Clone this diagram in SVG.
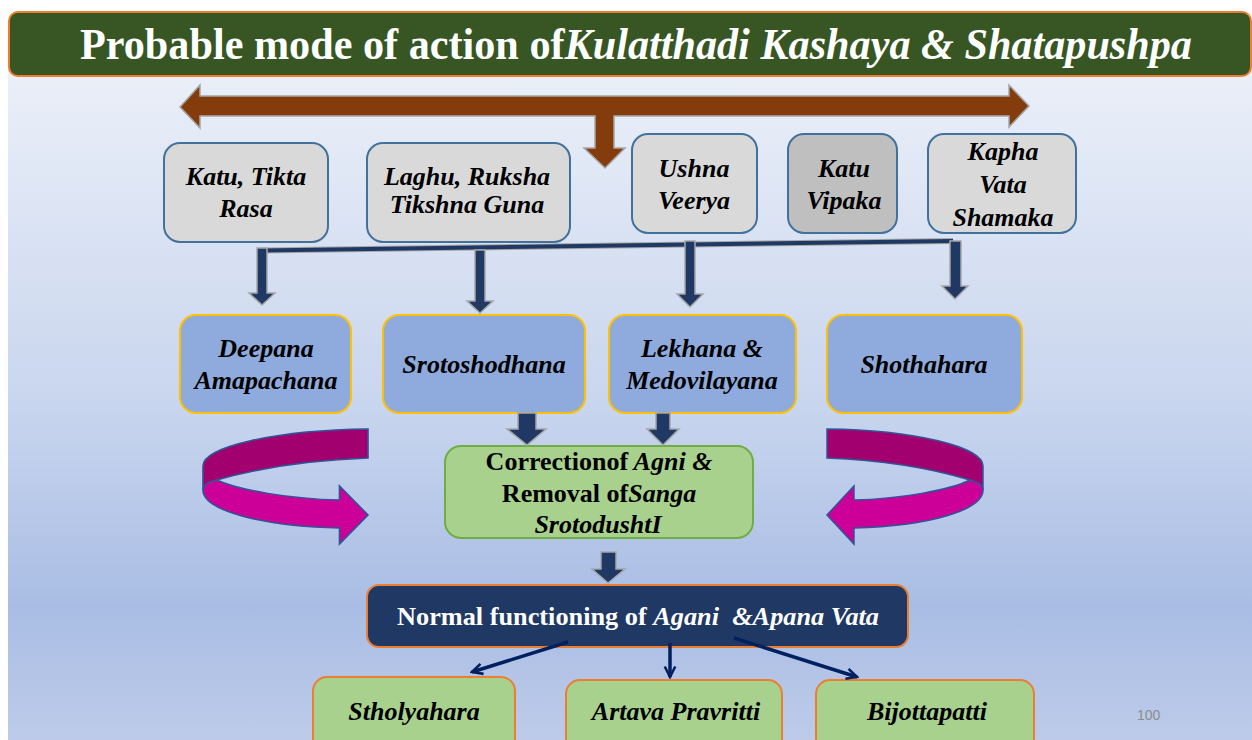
<svg xmlns="http://www.w3.org/2000/svg" width="1252" height="740" viewBox="0 0 1252 740">
<defs>
<linearGradient id="bg" x1="0" y1="76" x2="0" y2="740" gradientUnits="userSpaceOnUse">
<stop offset="0" stop-color="#eaeff8"/>
<stop offset="0.5" stop-color="#c8d5ee"/>
<stop offset="0.8" stop-color="#a9bde4"/>
<stop offset="1" stop-color="#bdcbe9"/>
</linearGradient>
<marker id="vee" viewBox="0 0 12 12" refX="10.5" refY="6" markerWidth="14" markerHeight="14" markerUnits="userSpaceOnUse" orient="auto">
<path d="M1.5,1.5 L10.5,6 L1.5,10.5" fill="none" stroke="#002060" stroke-width="2.2"/>
</marker>
<g id="curl">
<path class="curlA" d="M827,429 C915,430 983,447 983,466 L983,490 C980,484 975,482 970,480 C930,468 880,460 827,458 Z"/>
<path class="curlB" d="M970,480 C950,490 900,499 854,500 L854,486 L827,515 L854,544 L854,528 C930,526 983,510 983,490 C983,485 978,482 970,480 Z"/>
</g>
</defs>
<style>
.t{font-family:"Liberation Serif","Times New Roman",serif;font-weight:bold;font-style:italic;font-size:26px;text-anchor:middle;fill:#000}
.up{font-style:normal}
.gray{fill:#d9d9d9;stroke:#41719c;stroke-width:2}
.dgray{fill:#bfbfbf;stroke:#41719c;stroke-width:2}
.blue{fill:#8faadc;stroke:#ffc000;stroke-width:2}
.green{fill:#a9d18e;stroke:#70ad47;stroke-width:2}
.green2{fill:#a9d18e;stroke:#ed7d31;stroke-width:2}
.navy{fill:#203864;stroke:#ed7d31;stroke-width:2}
.dn{fill:#1f3864;stroke:#a6a6a6;stroke-width:1.5}
.curlA{fill:#a3006f;stroke:#2f5597;stroke-width:1.5}
.curlB{fill:#cc0099;stroke:#2f5597;stroke-width:1.5}
.thin{fill:none;stroke:#002060;stroke-width:3.5;marker-end:url(#vee)}
</style>

<rect x="0" y="0" width="1252" height="740" fill="#ffffff"/>
<rect x="8" y="60" width="1244" height="680" fill="url(#bg)"/>

<g id="title">
<rect x="9" y="12" width="1242" height="64" rx="9" fill="#375623" stroke="#ed7d31" stroke-width="2"/>
<text x="80" y="59" textLength="1112" lengthAdjust="spacingAndGlyphs" font-family="'Liberation Serif','Times New Roman',serif" font-weight="bold" font-size="44" fill="#ffffff">Probable mode of action of<tspan font-style="italic">Kulatthadi Kashaya &amp; Shatapushpa</tspan></text>
</g>

<g id="brown-arrow">
<polygon points="180,107 200,85 200,96 1009,96 1009,85 1029,106 1009,127 1009,116 614,116 614,148 625,148 605,168 584,148 595,148 595,116 200,116 200,128" fill="#843c0c" stroke="#a6a6a6" stroke-width="1.5"/>
</g>

<g id="n-katu-tikta">
<rect class="gray" x="164" y="143" width="164" height="99" rx="16"/>
<text class="t" x="246" y="185">Katu, Tikta</text>
<text class="t" x="246" y="217">Rasa</text>
</g>
<g id="n-laghu">
<rect class="gray" x="367" y="143" width="203" height="99" rx="16"/>
<text class="t" x="467" y="185" font-size="21.5">Laghu, Ruksha</text>
<text class="t" x="467" y="213" font-size="21.5">Tikshna Guna</text>
</g>
<g id="n-ushna">
<rect class="gray" x="632" y="134" width="125" height="99" rx="16"/>
<text class="t" x="694" y="177">Ushna</text>
<text class="t" x="694" y="209">Veerya</text>
</g>
<g id="n-vipaka">
<rect class="dgray" x="788" y="134" width="109" height="99" rx="16"/>
<text class="t" x="844" y="177">Katu</text>
<text class="t" x="844" y="209">Vipaka</text>
</g>
<g id="n-kapha">
<rect class="gray" x="928" y="134" width="148" height="99" rx="16"/>
<text class="t" x="1003" y="160">Kapha</text>
<text class="t" x="1003" y="193">Vata</text>
<text class="t" x="1003" y="226">Shamaka</text>
</g>

<g id="n-deepana">
<rect class="blue" x="180" y="315" width="171" height="98" rx="16"/>
<text class="t" x="266" y="357">Deepana</text>
<text class="t" x="266" y="389">Amapachana</text>
</g>
<g id="n-sroto">
<rect class="blue" x="383" y="315" width="202" height="98" rx="16"/>
<text class="t" x="484" y="373">Srotoshodhana</text>
</g>
<g id="n-lekhana">
<rect class="blue" x="609" y="315" width="187" height="98" rx="16"/>
<text class="t" x="702" y="357">Lekhana &amp;</text>
<text class="t" x="702" y="389">Medovilayana</text>
</g>
<g id="n-shotha">
<rect class="blue" x="827" y="315" width="195" height="98" rx="16"/>
<text class="t" x="924" y="373">Shothahara</text>
</g>

<g id="n-correction">
<rect class="green" x="445" y="446" width="308" height="92" rx="16"/>
<text class="t" x="599" y="470" font-size="25"><tspan class="up">Correctionof</tspan> Agni &amp;</text>
<text class="t" x="599" y="502" font-size="25"><tspan class="up">Removal of</tspan>Sanga</text>
<text class="t" x="598" y="533" font-size="25">SrotodushtI</text>
</g>

<g id="n-normal">
<rect class="navy" x="367" y="585" width="541" height="62" rx="12"/>
<text xml:space="preserve" x="397" y="625" textLength="482" lengthAdjust="spacingAndGlyphs" font-family="'Liberation Serif','Times New Roman',serif" font-weight="bold" font-size="25" fill="#ffffff">Normal functioning of <tspan font-style="italic">Agani  &amp;Apana Vata</tspan></text>
</g>

<g id="n-stholya">
<rect class="green2" x="313" y="677" width="202" height="80" rx="14"/>
<text class="t" x="414" y="720">Stholyahara</text>
</g>
<g id="n-artava">
<rect class="green2" x="566" y="680" width="216" height="80" rx="14"/>
<text class="t" x="676" y="720">Artava Pravritti</text>
</g>
<g id="n-bijo">
<rect class="green2" x="816" y="680" width="218" height="80" rx="14"/>
<text class="t" x="927" y="720">Bijottapatti</text>
</g>

<g id="connectors">
<line x1="261" y1="250.5" x2="953" y2="241" stroke="#a6a6a6" stroke-width="6"/>
<line x1="261" y1="250.5" x2="953" y2="241" stroke="#1f3864" stroke-width="4"/>
<polygon class="dn" points="257,248 267,248 267,293 275,293 262,305 249,293 257,293"/>
<polygon class="dn" points="475,250 485,250 485,301 493,301 480,313 467,301 475,301"/>
<polygon class="dn" points="685,241 695,241 695,294 703,294 690,307 677,294 685,294"/>
<polygon class="dn" points="950,241 961,241 961,286 968,286 955,299 942,286 950,286"/>
<polygon class="dn" points="518,413 536,413 536,429 546,429 527,445 507,429 518,429"/>
<polygon class="dn" points="656,413 670,413 670,429 679,429 663,445 647,429 656,429"/>
<polygon class="dn" points="601,552 616,552 616,569 625,569 608,583 592,569 601,569"/>
<line class="thin" x1="568" y1="642" x2="472" y2="672"/>
<line class="thin" x1="670" y1="643" x2="670" y2="677"/>
<line class="thin" x1="734" y1="638" x2="857" y2="677"/>
<use href="#curl"/>
<use href="#curl" transform="translate(1243,0) scale(-1.058,1)"/>
</g>

<text x="1137" y="720" font-family="'Liberation Sans',Arial,sans-serif" font-size="14" fill="#8c8c8c">100</text>
</svg>
